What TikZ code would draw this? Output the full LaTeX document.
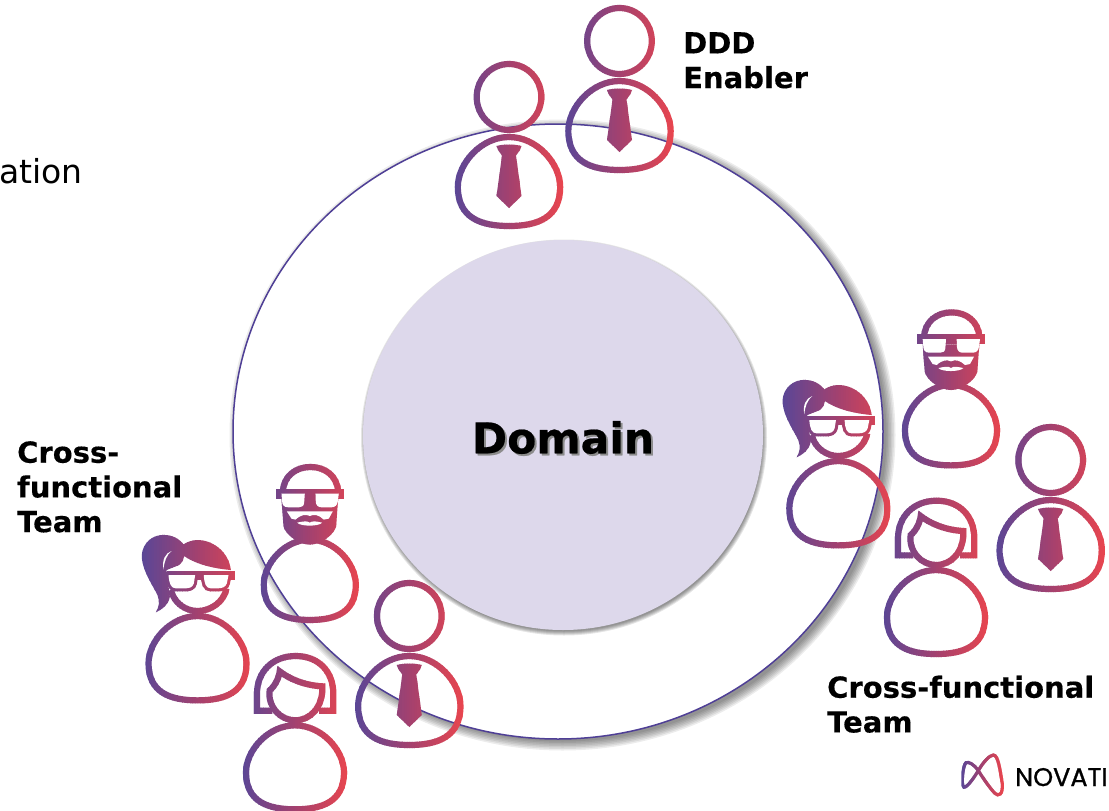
\documentclass[tikz,border=0pt]{standalone}
\usepackage{fontspec}
\setmainfont{DejaVu Sans}
\newfontfamily\logofont{Poppins}[FakeBold=1]
\definecolor{gradL}{HTML}{5B4696}
\definecolor{gradM}{HTML}{A3416F}
\definecolor{gradR}{HTML}{E8454F}
\definecolor{ringc}{HTML}{4F3F96}
\definecolor{domainc}{HTML}{DDD8EB}
\colorlet{inkc}{gradM}
\tikzset{
  ink/.style={draw=inkc,line width=6.2pt,line join=miter},
  solid ink/.style={fill=inkc},
  knock/.style={fill=white},
  fadebox/.style={x=.33333pt,y=-.33333pt},
  labeltext/.style={inner sep=0pt,anchor=north west,align=left,font=\fontsize{29}{34.7}\selectfont\bfseries\addfontfeature{FakeBold=0.3}},
  headtext/.style={inner sep=0pt,font=\fontsize{42.5}{42.5}\selectfont\bfseries\addfontfeature{FakeBold=0.5}},
}
% vertical slices of the figure, each with its own colour of the gradient
\newcommand{\slicedfigure}[5]{% x, y, half-width, inked drawing, openings
  \begin{scope}[shift={(#1,#2)}]
    \foreach \i in {0,...,43} {
      \pgfmathsetmacro{\xa}{-#3+2*#3*\i/44}
      \pgfmathsetmacro{\xb}{-#3+2*#3*(\i+1)/44+.7}
      \pgfmathsetmacro{\ta}{\i/43}
      \pgfmathsetmacro{\pa}{\ta<.5 ? 200*\ta : 200*(\ta-.5)}
      \ifdim\ta pt<.5pt \colorlet{inkc}{gradM!\pa!gradL}\else\colorlet{inkc}{gradR!\pa!gradM}\fi
      \begin{scope}
        \clip (\xa,-100) rectangle (\xb,100);
        #4
      \end{scope}
    }
    #5
  \end{scope}
}
\newcommand{\bodyring}[4]{% cx, top, bottom, half-width
  \pgfmathsetmacro{\bl}{#1-#4}\pgfmathsetmacro{\br}{#1+#4}
  \pgfmathsetmacro{\bm}{#2+(#3-#2)*.56}
  \pgfmathsetmacro{\ca}{#1-#4*.55}\pgfmathsetmacro{\cb}{#1+#4*.55}
  \pgfmathsetmacro{\cc}{#2+(#3-#2)*.30}\pgfmathsetmacro{\cd}{#3-(#3-#2)*.09}
  \draw[ink] (#1,#2) .. controls (\ca,#2) and (\bl,\cc) .. (\bl,\bm)
     .. controls (\bl,\cd) and (\ca,#3) .. (#1,#3)
     .. controls (\cb,#3) and (\br,\cd) .. (\br,\bm)
     .. controls (\br,\cc) and (\cb,#2) .. (#1,#2) -- cycle;
}
\newcommand{\manart}{%
  \draw[ink] (0,-45) ellipse (32.3 and 33);
  \begin{scope}[fadebox]
    \bodyring{0}{-15}{252}{153.5}
  \end{scope}
  \fill[solid ink] (-12.5,4) .. controls (-5,2) and (5,2) .. (12.5,4) -- (11,8) -- (7,13.5) -- (12.5,54) -- (0,66) -- (-12.5,54) -- (-7,13.5) -- (-11,8) -- cycle;
}
\newcommand{\womanart}{%
  \begin{scope}[fadebox,shift={(-498,-830)}]
    \bodyring{498}{810}{1062}{147}
    \draw[ink] (422,705) .. controls (415,755) and (455,795) .. (498,795) .. controls (545,795) and (580,755) .. (580,700) -- (580,693) .. controls (525,690) and (480,670) .. (452,648) .. controls (450,670) and (435,695) .. (422,705) -- cycle;
    \draw[ink] (430,766) -- (384,766) -- (384,715) .. controls (384,650) and (430,602) .. (500,602) .. controls (570,602) and (613,650) .. (613,715) -- (613,766) -- (570,766);
  \end{scope}
}
\newcommand{\beardart}{%
  \begin{scope}[fadebox,shift={(-543,-266)}]
    \bodyring{543}{255}{496}{138}
    \draw[ink] (462,110) .. controls (465,65) and (500,37) .. (545,37) .. controls (590,37) and (625,65) .. (628,110);
    \fill[solid ink] (441,103) rectangle (645,133);
    \fill[solid ink] (458,133) -- (464,215) .. controls (470,240) and (510,270) .. (543,270) .. controls (576,270) and (616,240) .. (622,215) -- (628,133) -- cycle;
  \end{scope}
}
\newcommand{\beardgaps}{%
  \begin{scope}[fadebox,shift={(-543,-266)}]
    \fill[knock] (458,117) -- (528,117) -- (526,145) .. controls (525,155) and (518,158) .. (510,158) -- (478,158) .. controls (465,158) and (460,150) .. (460,140) -- cycle;
    \fill[knock] (560,117) -- (630,117) -- (627,140) .. controls (626,152) and (618,158) .. (608,158) -- (578,158) .. controls (568,158) and (562,152) .. (561,142) -- cycle;
    \fill[knock] (474,170) -- (612,170) -- (600,192) -- (585,195) .. controls (570,180) and (555,178) .. (543,184) .. controls (531,178) and (516,180) .. (500,195) -- (488,192) -- cycle;
    \fill[knock] (505,204) .. controls (525,200) and (535,198) .. (543,204) .. controls (551,198) and (561,200) .. (580,204) .. controls (570,216) and (515,216) .. (505,204) -- cycle;
  \end{scope}
}
\newcommand{\ponyart}{%
  \begin{scope}[fadebox,shift={(-205,-500)}]
    \bodyring{205}{483}{736}{147}
    \draw[ink] (125,405) .. controls (135,445) and (170,468) .. (205,468) .. controls (245,468) and (285,440) .. (292,400);
    \fill[solid ink] (80,472) .. controls (100,462) and (118,450) .. (122,425) -- (112,345) -- (150,330) .. controls (160,320) and (165,312) .. (165,303) .. controls (205,330) and (255,340) .. (305,345) .. controls (300,295) and (255,255) .. (205,255) .. controls (190,255) and (175,260) .. (163,268) .. controls (145,245) and (120,238) .. (95,240) .. controls (55,245) and (35,280) .. (38,310) .. controls (42,350) and (70,390) .. (85,420) .. controls (92,440) and (90,455) .. (80,472) -- cycle;
    \fill[solid ink] (112,347) rectangle (316,375);
    \draw[ink] (118,360) -- (198,360) -- (194,385) .. controls (190,398) and (180,400) .. (165,400) -- (140,400) .. controls (125,400) and (120,385) .. (118,360) -- cycle;
    \draw[ink] (224,360) -- (298,360) -- (293,385) .. controls (290,395) and (280,400) .. (265,400) -- (245,400) .. controls (230,400) and (225,385) .. (224,360) -- cycle;
  \end{scope}
}
\newcommand{\ponygaps}{%
  \begin{scope}[fadebox,shift={(-205,-500)}]
    \fill[knock] (127,288) .. controls (108,295) and (98,315) .. (103,343) .. controls (105,320) and (112,300) .. (127,288) -- cycle;
    \fill[knock] (118,360) -- (198,360) -- (194,385) .. controls (190,398) and (180,400) .. (165,400) -- (140,400) .. controls (125,400) and (120,385) .. (118,360) -- cycle;
    \fill[knock] (224,360) -- (298,360) -- (293,385) .. controls (290,395) and (280,400) .. (265,400) -- (245,400) .. controls (230,400) and (225,385) .. (224,360) -- cycle;
  \end{scope}
}
\newcommand{\logoart}{%
  \begin{scope}[fadebox,shift={(-127,-107)}]
    \draw[draw=inkc,line width=3.1pt] (115,92) .. controls (130,65) and (150,45) .. (160,45) .. controls (175,45) and (180,90) .. (187,130) .. controls (190,165) and (175,170) .. (165,160) .. controls (150,145) and (130,115) .. (115,92) .. controls (100,70) and (85,65) .. (78,68) .. controls (70,75) and (65,115) .. (68,135) .. controls (70,150) and (85,140) .. (115,92) -- cycle;
  \end{scope}
}
\begin{document}
\begin{tikzpicture}[x=1pt,y=-1pt]
  \useasboundingbox (0,0) rectangle (1109,811);
  \clip (0,0) rectangle (1109,811);
  \fill[white] (0,0) rectangle (1109,811);
  % outer ring with its shadow
  \foreach \d in {8,6.5,5,3.5,2,.5,-1} {
    \fill[black,opacity=.075] (562.5,435) ellipse ({325+\d} and {307.5+\d});
  }
  \fill[white] (558,431.5) ellipse (325 and 307.5);
  \draw[ringc,line width=1.5pt] (558,431.5) ellipse (325 and 307.5);
  % domain disc with its shadow
  \foreach \d in {3,2,1,0,-1} {
    \fill[black,opacity=.10] (564,437.5) ellipse ({200+\d} and {195+\d});
  }
  \fill[domainc] (563,435) ellipse (200 and 195);
  \node[headtext,text=black!45] (domainshadow) at (565,439.5) {Domain};
  \node[headtext] (domain) at (563,437.5) {Domain};
  % people
  \slicedfigure{619.5}{86}{55}{\manart}{}
  \slicedfigure{509}{142}{55}{\manart}{}
  \slicedfigure{1050.7}{505}{55}{\manart}{}
  \slicedfigure{409.3}{661}{55}{\manart}{}
  \slicedfigure{951}{388.7}{51}{\beardart}{\beardgaps}
  \slicedfigure{309.8}{543.3}{51}{\beardart}{\beardgaps}
  \slicedfigure{838.3}{466.7}{56}{\ponyart}{\ponygaps}
  \slicedfigure{197.5}{621.7}{56}{\ponyart}{\ponygaps}
  \slicedfigure{936}{576.7}{54}{\womanart}{}
  \slicedfigure{295}{732}{54}{\womanart}{}
  % labels
  \node[labeltext] (ddd) at (683,32) {DDD\\Enabler};
  \node[labeltext] (crossleft) at (17,441) {Cross-\\functional\\Team};
  \node[labeltext] (crossright) at (827,675.5) {Cross-functional\\Team};
  \node[inner sep=0pt,anchor=base west,font=\fontsize{33}{33}\selectfont] (ation) at (-1,183) {ation};
  % logo
  \slicedfigure{982.3}{775.7}{21}{\logoart}{}
  \node[inner sep=0pt,anchor=base west,font=\fontsize{25.5}{26}\logofont\selectfont] (logo) at (1015,786) {NOVATI};
\end{tikzpicture}
\end{document}
